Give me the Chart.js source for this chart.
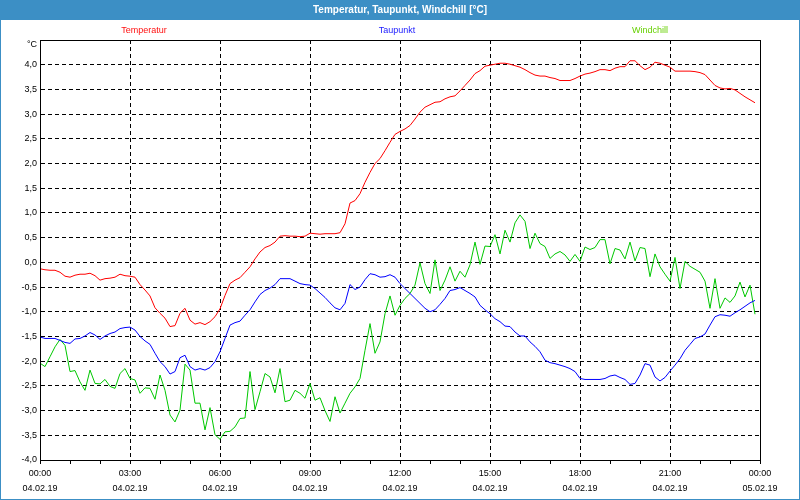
<!DOCTYPE html>
<html>
<head>
<meta charset="utf-8">
<script src="https://cdn.jsdelivr.net/npm/chart.js@4/dist/chart.umd.min.js"></script>
<style>
  html, body { margin: 0; padding: 0; background: #fff; }
  canvas { display: block; }
</style>
</head>
<body>
<canvas id="chart" width="800" height="500"></canvas>
<script>
const TITLE = 'Temperatur, Taupunkt, Windchill [°C]';
const SERIES_NAMES = ['Temperatur', 'Taupunkt', 'Windchill'];
const SERIES_COLORS = ['#ff0000', '#0000ff', '#00c800'];
const LEGEND_COLORS = ['#ff1010', '#2020ff', '#66d000'];
const UNIT_LABEL = '°C';
// x tick labels every 3 hours: time + date
const HOUR_LABELS = ['00:00', '03:00', '06:00', '09:00', '12:00', '15:00', '18:00', '21:00', '00:00'];
const DATE_LABELS = ['04.02.19', '04.02.19', '04.02.19', '04.02.19', '04.02.19', '04.02.19', '04.02.19', '04.02.19', '05.02.19'];

// measurement times in hours (every 10 minutes, 00:00 .. 23:50)
const times = [];
for (let i = 0; i < 144; i++) times.push(i / 6);

const temperatur = [
  -0.13, -0.15, -0.16, -0.16, -0.20, -0.28, -0.30, -0.26, -0.24, -0.24,
  -0.22, -0.27, -0.36, -0.33, -0.32, -0.30, -0.24, -0.27, -0.28, -0.30,
  -0.45, -0.56, -0.68, -0.92, -1.03, -1.13, -1.30, -1.28, -1.03, -0.93,
  -1.17, -1.25, -1.22, -1.26, -1.20, -1.10, -0.94, -0.67, -0.43, -0.36,
  -0.31, -0.20, -0.09, 0.07, 0.21, 0.30, 0.34, 0.41, 0.53, 0.54,
  0.53, 0.53, 0.52, 0.53, 0.59, 0.58, 0.57, 0.58, 0.58, 0.58,
  0.60, 0.78, 1.20, 1.25, 1.39, 1.62, 1.82, 2.00, 2.10, 2.26,
  2.43, 2.59, 2.65, 2.70, 2.77, 2.90, 3.04, 3.14, 3.19, 3.24,
  3.25, 3.31, 3.35, 3.37, 3.47, 3.58, 3.69, 3.82, 3.88, 3.97,
  3.99, 4.01, 4.03, 4.03, 4.01, 3.98, 3.95, 3.90, 3.84, 3.79,
  3.77, 3.77, 3.74, 3.72, 3.68, 3.68, 3.68, 3.72, 3.77, 3.81,
  3.83, 3.86, 3.90, 3.90, 3.88, 3.93, 3.96, 3.96, 4.08, 4.08,
  3.98, 3.90, 3.95, 4.05, 4.03, 3.99, 3.95, 3.87, 3.87, 3.87,
  3.87, 3.86, 3.84, 3.80, 3.69, 3.58, 3.53, 3.51, 3.52, 3.49,
  3.42, 3.35, 3.29, 3.23
];

const taupunkt = [
  -1.51, -1.54, -1.54, -1.54, -1.58, -1.62, -1.64, -1.55, -1.54, -1.49,
  -1.42, -1.47, -1.56, -1.49, -1.44, -1.41, -1.34, -1.32, -1.31, -1.37,
  -1.50, -1.59, -1.66, -1.84, -2.01, -2.11, -2.26, -2.21, -1.93, -1.88,
  -2.11, -2.18, -2.15, -2.18, -2.13, -2.01, -1.81, -1.54, -1.27, -1.22,
  -1.19, -1.07, -0.96, -0.80, -0.65, -0.57, -0.52, -0.45, -0.33, -0.33,
  -0.33, -0.38, -0.43, -0.45, -0.46, -0.53, -0.62, -0.71, -0.82, -0.92,
  -0.96, -0.83, -0.45, -0.55, -0.50, -0.35, -0.23, -0.25, -0.30, -0.29,
  -0.25, -0.30, -0.43, -0.53, -0.63, -0.73, -0.83, -0.93, -1.00, -0.96,
  -0.85, -0.73, -0.57, -0.55, -0.51, -0.57, -0.63, -0.70, -0.87, -0.96,
  -1.04, -1.14, -1.20, -1.29, -1.30, -1.41, -1.49, -1.49, -1.61, -1.70,
  -1.81, -1.98, -2.03, -2.05, -2.08, -2.11, -2.15, -2.21, -2.35, -2.37,
  -2.37, -2.37, -2.37, -2.35, -2.30, -2.28, -2.33, -2.37, -2.47, -2.45,
  -2.28, -2.05, -2.08, -2.32, -2.40, -2.33, -2.20, -2.08, -1.95, -1.78,
  -1.66, -1.54, -1.51, -1.45, -1.27, -1.10, -1.06, -1.07, -1.09, -1.02,
  -0.96, -0.89, -0.82, -0.77
];

const windchill = [
  -2.04, -2.11, -1.91, -1.71, -1.56, -1.68, -2.21, -2.19, -2.42, -2.59,
  -2.18, -2.45, -2.46, -2.37, -2.51, -2.55, -2.25, -2.15, -2.35, -2.38,
  -2.65, -2.54, -2.55, -2.77, -2.28, -2.59, -3.09, -3.23, -2.99, -2.06,
  -2.18, -2.85, -2.85, -3.39, -2.94, -3.49, -3.58, -3.43, -3.42, -3.33,
  -3.16, -3.15, -2.21, -2.98, -2.62, -2.25, -2.32, -2.64, -2.15, -2.82,
  -2.79, -2.59, -2.65, -2.75, -2.45, -2.79, -2.74, -3.00, -3.22, -2.72,
  -3.05, -2.85, -2.65, -2.52, -2.35, -1.78, -1.24, -1.84, -1.61, -1.04,
  -0.68, -1.07, -0.87, -0.73, -0.63, -0.46, -0.01, -0.43, -0.63, 0.05,
  -0.57, -0.36, -0.09, -0.38, -0.18, -0.30, -0.05, 0.41, -0.04, 0.33,
  0.32, 0.56, 0.17, 0.65, 0.41, 0.80, 0.96, 0.83, 0.28, 0.59,
  0.38, 0.32, 0.08, 0.17, 0.22, 0.15, 0.02, 0.16, 0.02, 0.31,
  0.26, 0.30, 0.46, 0.46, -0.03, 0.28, 0.25, 0.07, 0.41, 0.03,
  0.30, 0.28, -0.29, 0.17, -0.09, -0.24, -0.38, 0.10, -0.53, 0.02,
  -0.08, -0.14, -0.20, -0.38, -0.93, -0.33, -0.93, -0.72, -0.81, -0.68,
  -0.40, -0.70, -0.46, -1.05
];

const FONT = '"Liberation Sans", Arial, sans-serif';

function toPoints(values) {
  return values.map((v, i) => ({x: times[i], y: v}));
}

const chrome = {
  id: 'chrome',
  beforeDraw(chart) {
    const {ctx, width, height} = chart;
    ctx.save();
    ctx.fillStyle = '#ffffff';
    ctx.fillRect(0, 0, width, height);
    // title bar
    ctx.fillStyle = '#3c8fc5';
    ctx.fillRect(0, 0, width, 20);
    ctx.strokeStyle = '#3c8fc5';
    ctx.lineWidth = 1;
    ctx.strokeRect(0.5, 0.5, width - 1, height - 1);
    ctx.fillStyle = '#ffffff';
    ctx.font = 'bold 10px ' + FONT;
    ctx.textAlign = 'center';
    ctx.textBaseline = 'middle';
    ctx.fillText(TITLE, width / 2, 10.5);
    // series names above plot
    ctx.font = '9px ' + FONT;
    const centers = [144, 397, 650];
    SERIES_NAMES.forEach((name, i) => {
      ctx.fillStyle = LEGEND_COLORS[i];
      ctx.fillText(name, centers[i], 31);
    });
    ctx.restore();
  },
  afterDraw(chart) {
    const {ctx, chartArea: a} = chart;
    ctx.save();
    ctx.strokeStyle = '#000';
    ctx.lineWidth = 1;
    ctx.strokeRect(Math.round(a.left) + 0.5, Math.round(a.top) + 0.5,
      Math.round(a.right - a.left), Math.round(a.bottom - a.top));
    ctx.fillStyle = '#000';
    ctx.font = '9px ' + FONT;
    ctx.textAlign = 'right';
    ctx.textBaseline = 'middle';
    ctx.fillText(UNIT_LABEL, a.left - 3, a.top + 4.5);
    ctx.restore();
  }
};

new Chart(document.getElementById('chart'), {
  type: 'line',
  data: {
    datasets: SERIES_NAMES.map((name, i) => ({
      label: name,
      data: toPoints([temperatur, taupunkt, windchill][i]),
      borderColor: SERIES_COLORS[i],
      backgroundColor: SERIES_COLORS[i],
      borderWidth: 1,
      pointRadius: 0,
      tension: 0,
      fill: false
    }))
  },
  options: {
    responsive: false,
    animation: false,
    events: [],
    layout: {padding: {top: 40, right: 40, left: 0, bottom: 0}},
    plugins: {legend: {display: false}, title: {display: false}, tooltip: {enabled: false}},
    scales: {
      x: {
        type: 'linear',
        min: 0,
        max: 24,
        afterFit(scale) { scale.height = 40; },
        border: {display: true, color: '#000', width: 1, dash: [4, 3]},
        grid: {
          color: ctx => (ctx.tick && ctx.tick.value % 3 === 0 && ctx.tick.value > 0 && ctx.tick.value < 24) ? '#000' : 'rgba(0,0,0,0)',
          tickColor: '#000',
          tickLength: 4,
          drawTicks: true
        },
        ticks: {
          stepSize: 1,
          autoSkip: false,
          maxRotation: 0,
          padding: 2,
          color: '#000',
          font: {family: FONT, size: 9, lineHeight: '15px'},
          callback: v => (v % 3 === 0) ? [HOUR_LABELS[v / 3], DATE_LABELS[v / 3]] : ''
        }
      },
      y: {
        min: -4,
        max: 4.5,
        afterFit(scale) { scale.width = 40; },
        border: {display: true, color: '#000', width: 1, dash: [4, 3]},
        grid: {
          color: ctx => (ctx.tick && ctx.tick.value > -4 && ctx.tick.value < 4.5) ? '#000' : 'rgba(0,0,0,0)',
          drawTicks: false
        },
        ticks: {
          stepSize: 0.5,
          padding: 3,
          color: '#000',
          font: {family: FONT, size: 9},
          callback: v => v >= 4.5 ? '' : v.toFixed(1).replace('.', ',')
        }
      }
    }
  },
  plugins: [chrome]
});
</script>
</body>
</html>
